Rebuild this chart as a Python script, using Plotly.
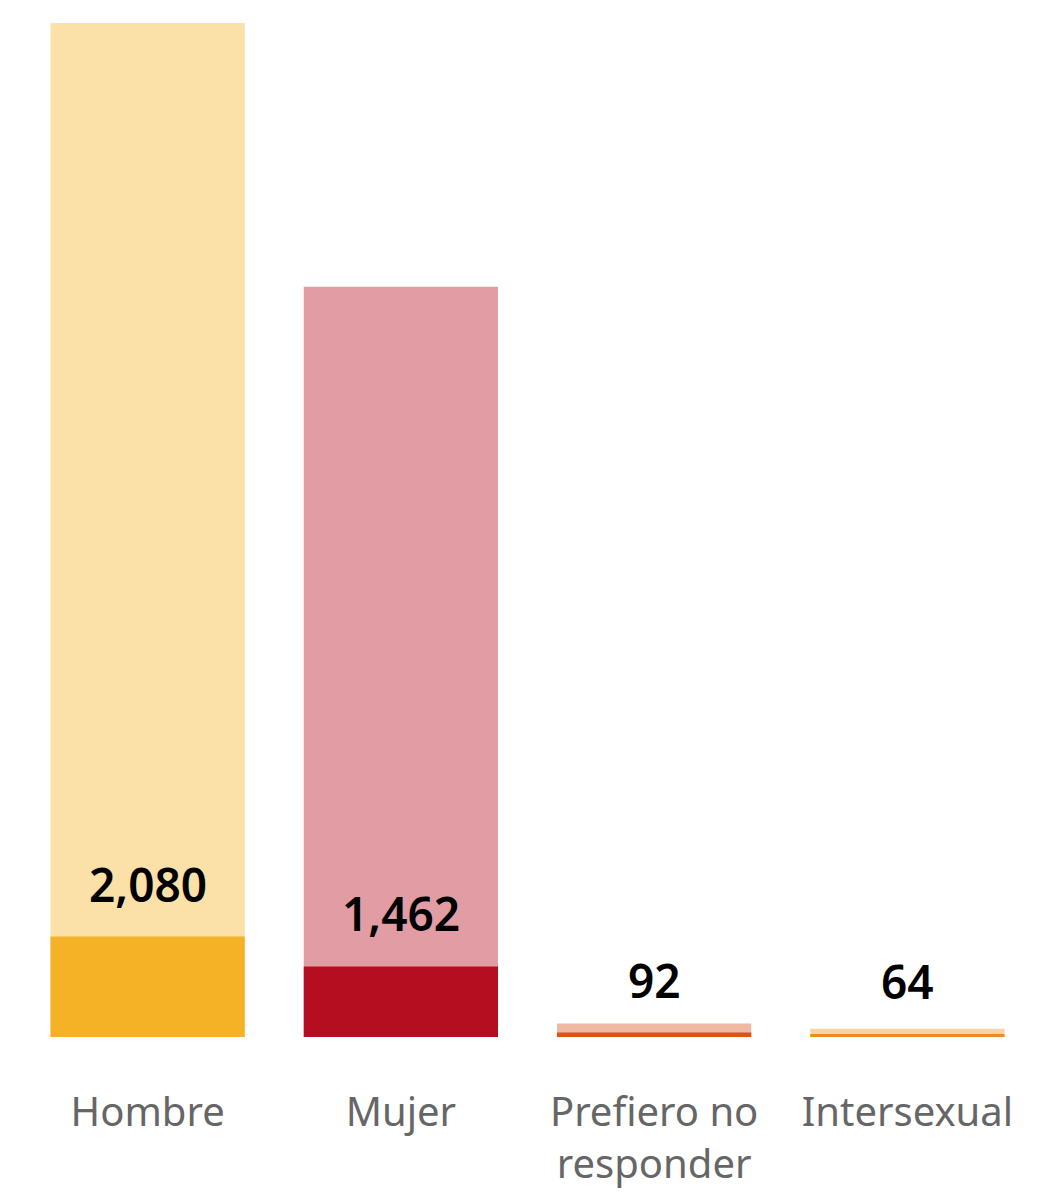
import plotly.graph_objects as go

categories = ["Hombre", "Mujer", "Prefiero no<br>responder", "Intersexual"]
total_values = [21000, 15540, 280, 170]
highlight_values = [2080, 1462, 92, 64]
value_labels = ["2,080", "1,462", "92", "64"]

light_colors = ["#FBE0A8", "#E29CA4", "#EFB9A3", "#F9D2A6"]
dark_colors = ["#F6B227", "#B50E20", "#D9531A", "#EE8A1E"]

FONT = "Noto Sans"

fig = go.Figure()
fig.add_trace(go.Bar(
    x=categories,
    y=total_values,
    marker=dict(color=light_colors, line=dict(width=0)),
    hoverinfo="skip",
))
fig.add_trace(go.Bar(
    x=categories,
    y=highlight_values,
    marker=dict(color=dark_colors, line=dict(width=0)),
    hovertemplate="%{x}<br>%{y:,}<extra></extra>",
))

for cat, val, lab in zip(categories, highlight_values, value_labels):
    fig.add_annotation(
        x=cat, y=val, text=lab, showarrow=False,
        yanchor="bottom", yshift=20,
        font=dict(family=FONT, size=46, color="#000000", weight=600),
    )

fig.update_layout(
    barmode="overlay",
    bargap=0.233,
    showlegend=False,
    plot_bgcolor="white",
    paper_bgcolor="white",
    width=1063,
    height=1194,
    margin=dict(l=13, r=37, t=15, b=162),
    xaxis=dict(
        showline=False, showgrid=False, ticks="",
        tickfont=dict(family=FONT, size=40, color="#666666"),
        ticklabelstandoff=48,
    ),
    yaxis=dict(
        range=[0, 21000], visible=False, showgrid=False, zeroline=False,
    ),
)

fig.write_html("out.html")
